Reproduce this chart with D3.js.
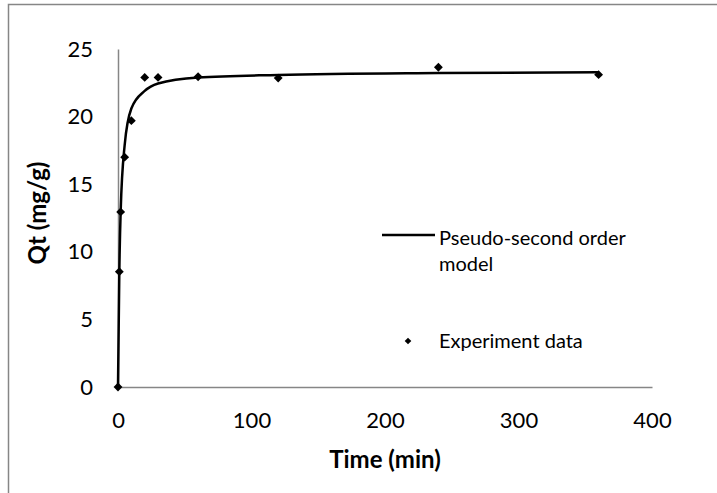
<!DOCTYPE html>
<html>
<head>
<meta charset="utf-8">
<script src="https://cdn.jsdelivr.net/npm/d3@7"></script>
<style>
  html, body { margin: 0; padding: 0; background: #fff; }
  svg { display: block; }
  text { font-family: Lato, "Open Sans", sans-serif; fill: #000; }
</style>
</head>
<body>
<svg id="chart" width="717" height="493"></svg>
<script>
// Experimental data
const expTime = [0, 1, 2, 5, 10, 20, 30, 60, 120, 240, 360];
const expQt   = [0, 8.53, 12.95, 17.0, 19.7, 22.9, 22.9, 22.95, 22.85, 23.65, 23.1];

// Pseudo-second order model curve
const modelTime = [0, 1, 2, 5, 10, 20, 30, 60, 120, 240, 360];
const modelQt   = [0, 8.6, 13.0, 17.9, 20.6, 21.9, 22.45, 22.9, 23.08, 23.22, 23.28];

const xTicks = [0, 100, 200, 300, 400];
const yTicks = [0, 5, 10, 15, 20, 25];

const svg = d3.select("#chart");
const W = 717, H = 493;

// outer chart border
svg.append("rect")
  .attr("x", 8.5).attr("y", 4.5)
  .attr("width", W + 20).attr("height", H + 20)
  .attr("fill", "none").attr("stroke", "#868686").attr("stroke-width", 1.5);

const x = d3.scaleLinear().domain([0, 400]).range([118, 652]);
const y = d3.scaleLinear().domain([0, 25]).range([387, 49]);

// axes
const xAxis = svg.append("g").attr("transform", `translate(0,${y(0)})`)
  .call(d3.axisBottom(x).tickValues(xTicks).tickSize(0).tickPadding(25).tickFormat(d3.format("d")));
const yAxis = svg.append("g").attr("transform", `translate(${x(0)},0)`)
  .call(d3.axisLeft(y).tickValues(yTicks).tickSize(0).tickPadding(25).tickFormat(d3.format("d")));

[xAxis, yAxis].forEach(g => {
  g.select(".domain").attr("stroke", "#868686").attr("stroke-width", 1.5);
  g.selectAll("text").attr("font-family", "Lato, sans-serif").attr("font-size", 22).attr("fill", "#000");
});

// axis titles
svg.append("text")
  .attr("x", 385).attr("y", 462)
  .attr("text-anchor", "middle").attr("dominant-baseline", "middle")
  .attr("font-size", 24).attr("font-weight", "bold")
  .text("Time (min)");

svg.append("text")
  .attr("transform", "translate(40,213) rotate(-90)")
  .attr("text-anchor", "middle").attr("dominant-baseline", "middle")
  .attr("font-size", 24).attr("font-weight", "bold")
  .text("Qt (mg/g)");

// model line
const modelData = modelTime.map((t, i) => ({ t, q: modelQt[i] }));
const line = d3.line().x(d => x(d.t)).y(d => y(d.q)).curve(d3.curveMonotoneX);
svg.append("path")
  .datum(modelData)
  .attr("d", line)
  .attr("fill", "none").attr("stroke", "#000").attr("stroke-width", 2.5)
  .attr("stroke-linejoin", "round");

// experiment points
const diamond = d3.symbol().type(d3.symbolDiamond2).size(50);
const expData = expTime.map((t, i) => ({ t, q: expQt[i] }));
svg.append("g").selectAll("path")
  .data(expData).join("path")
  .attr("transform", d => `translate(${x(d.t)},${y(d.q)})`)
  .attr("d", diamond)
  .attr("fill", "#000");

// legend
const lg = svg.append("g");
lg.append("line")
  .attr("x1", 382).attr("x2", 435).attr("y1", 235).attr("y2", 235)
  .attr("stroke", "#000").attr("stroke-width", 2.5);
lg.append("text").attr("x", 439).attr("y", 245)
  .attr("font-size", 20)
  .text("Pseudo-second order");
lg.append("text").attr("x", 439).attr("y", 271)
  .attr("font-size", 20)
  .text("model");
lg.append("path")
  .attr("transform", "translate(408,341)")
  .attr("d", d3.symbol().type(d3.symbolDiamond2).size(28))
  .attr("fill", "#000");
lg.append("text").attr("x", 439).attr("y", 348)
  .attr("font-size", 20)
  .text("Experiment data");
</script>
</body>
</html>
